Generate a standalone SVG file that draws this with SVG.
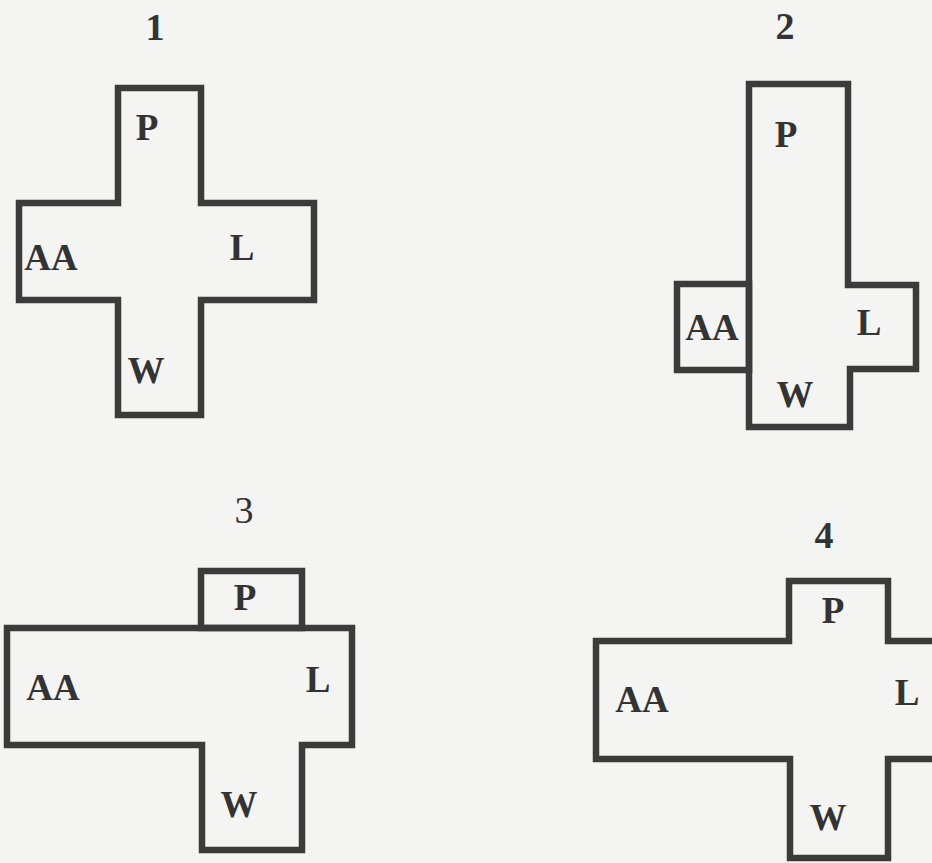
<svg xmlns="http://www.w3.org/2000/svg" width="932" height="863" viewBox="0 0 932 863">
<style>
.bg{fill:#f4f4f2}
.wall{fill:none;stroke:#3b3b3b;stroke-width:6.5;stroke-linejoin:miter;stroke-linecap:square}
.lbl{font-family:"Liberation Serif","Times New Roman",serif;font-weight:bold;font-size:37px;fill:#333;text-anchor:middle}
.num{font-family:"Liberation Serif","Times New Roman",serif;font-weight:bold;font-size:38px;fill:#333;text-anchor:middle}
</style>
<rect class="bg" x="0" y="0" width="932" height="863"/>
<g id="connectors"></g>
<g id="fig1">
<path class="wall" d="M118,88 H201 V203 H314 V300 H201 V415 H118 V300 H19 V203 H118 Z"/>
<text class="num" x="155" y="40">1</text>
<text class="lbl" x="147" y="140">P</text>
<text class="lbl" x="51" y="270">AA</text>
<text class="lbl" x="242" y="260">L</text>
<text class="lbl" x="146" y="383">W</text>
</g>
<g id="fig2">
<path class="wall" d="M749,84 H848 V285 H916 V369 H850 V427 H749 Z"/>
<rect class="wall" x="677" y="284" width="72" height="86"/>
<text class="num" x="785" y="39">2</text>
<text class="lbl" x="786" y="147">P</text>
<text class="lbl" x="712" y="340">AA</text>
<text class="lbl" x="869" y="335">L</text>
<text class="lbl" x="795" y="407">W</text>
</g>
<g id="fig3">
<path class="wall" d="M7,628 H352 V745 H302 V850 H202 V745 H7 Z"/>
<rect class="wall" x="201" y="571" width="101" height="57"/>
<text class="num" x="244" y="523" style="font-weight:normal">3</text>
<text class="lbl" x="245" y="610">P</text>
<text class="lbl" x="53" y="700">AA</text>
<text class="lbl" x="318" y="692">L</text>
<text class="lbl" x="239" y="817">W</text>
</g>
<g id="fig4">
<path class="wall" d="M945,641 H888 V581 H789 V641 H596 V759 H790 V858 H888 V759 H945"/>
<text class="num" x="824" y="548">4</text>
<text class="lbl" x="833" y="623">P</text>
<text class="lbl" x="642" y="712">AA</text>
<text class="lbl" x="907" y="705">L</text>
<text class="lbl" x="828" y="830">W</text>
</g>
</svg>
